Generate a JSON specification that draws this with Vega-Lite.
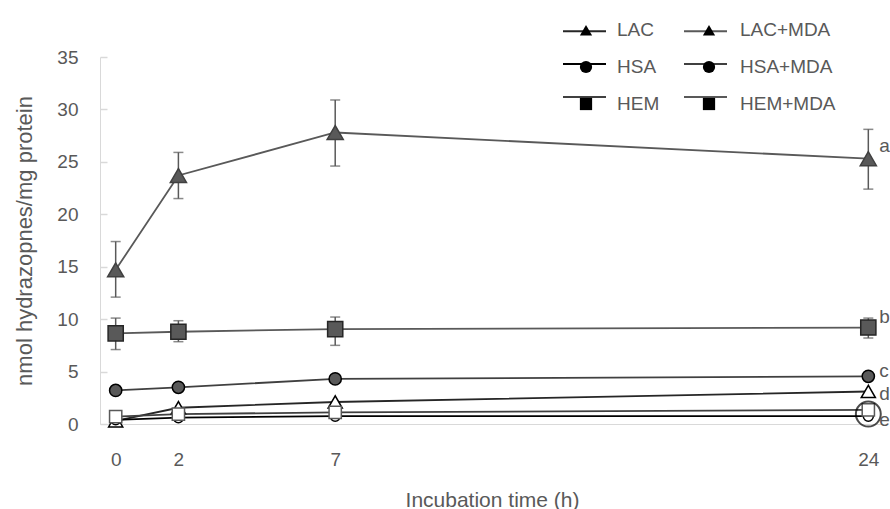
{
  "$schema": "https://vega.github.io/schema/vega-lite/v6.json",
  "width": 784,
  "height": 367,
  "autosize": {"type": "none"},
  "padding": {"left": 100, "top": 57, "right": 6, "bottom": 85},
  "background": "white",
  "config": {
    "view": {"stroke": null},
    "font": "Liberation Sans",
    "axis": {"labelColor": "#595959", "titleColor": "#595959", "titleFontWeight": "normal", "domainColor": "#d9d9d9", "tickColor": "#d9d9d9", "grid": false}
  },
  "datasets": {
    "main": [
      {"series": "LAC", "t": 0, "v": 0.3},
      {"series": "LAC", "t": 2, "v": 1.55},
      {"series": "LAC", "t": 7, "v": 2.1},
      {"series": "LAC", "t": 24, "v": 3.1},
      {"series": "HSA", "t": 0, "v": 0.4},
      {"series": "HSA", "t": 2, "v": 0.6},
      {"series": "HSA", "t": 7, "v": 0.75},
      {"series": "HSA", "t": 24, "v": 0.75},
      {"series": "HEM", "t": 0, "v": 0.7},
      {"series": "HEM", "t": 2, "v": 0.95},
      {"series": "HEM", "t": 7, "v": 1.1},
      {"series": "HEM", "t": 24, "v": 1.35},
      {"series": "LAC+MDA", "t": 0, "v": 14.7, "lo": 12.1, "hi": 17.4},
      {"series": "LAC+MDA", "t": 2, "v": 23.7, "lo": 21.5, "hi": 25.9},
      {"series": "LAC+MDA", "t": 7, "v": 27.8, "lo": 24.6, "hi": 30.9},
      {"series": "LAC+MDA", "t": 24, "v": 25.3, "lo": 22.4, "hi": 28.1},
      {"series": "HSA+MDA", "t": 0, "v": 3.2},
      {"series": "HSA+MDA", "t": 2, "v": 3.5},
      {"series": "HSA+MDA", "t": 7, "v": 4.3},
      {"series": "HSA+MDA", "t": 24, "v": 4.55},
      {"series": "HEM+MDA", "t": 0, "v": 8.65, "lo": 7.1, "hi": 10.1},
      {"series": "HEM+MDA", "t": 2, "v": 8.8, "lo": 7.85, "hi": 9.85},
      {"series": "HEM+MDA", "t": 7, "v": 9.05, "lo": 7.5, "hi": 10.2},
      {"series": "HEM+MDA", "t": 24, "v": 9.2, "lo": 8.2, "hi": 10.1}
    ],
    "letters": [
      {"t": 24, "v": 26.5, "label": "a"},
      {"t": 24, "v": 10.2, "label": "b"},
      {"t": 24, "v": 5.1, "label": "c"},
      {"t": 24, "v": 2.9, "label": "d"},
      {"t": 24, "v": 0.4, "label": "e"}
    ],
    "ring": [{"t": 24, "v": 0.95}]
  },
  "encoding": {
    "x": {
      "field": "t", "type": "quantitative",
      "scale": {"domain": [-0.5, 24.5], "nice": false, "zero": false},
      "axis": {"values": [0, 2, 7, 24], "ticks": false, "labelFontSize": 19, "labelPadding": 26, "title": "Incubation time (h)", "titleFontSize": 21, "titlePadding": 20}
    }
  },
  "layer": [
    {
      "data": {"name": "main"},
      "transform": [{"filter": "isValid(datum.lo)"}],
      "mark": {"type": "rule", "color": "#595959", "strokeWidth": 1.5},
      "encoding": {
        "y": {
          "field": "lo", "type": "quantitative", "scale": {"domain": [0, 35], "nice": false},
          "axis": {"orient": "left", "values": [0, 5, 10, 15, 20, 25, 30, 35], "ticks": false, "labelFontSize": 19, "labelPadding": 22, "title": "nmol hydrazopnes/mg protein", "titleFontSize": 22, "titlePadding": 20}
        },
        "y2": {"field": "hi"}
      }
    },
    {
      "data": {"name": "main"},
      "transform": [{"filter": "isValid(datum.lo)"}],
      "mark": {"type": "tick", "orient": "horizontal", "color": "#595959", "size": 10, "thickness": 1.5},
      "encoding": {"y": {"field": "lo", "type": "quantitative", "axis": null}}
    },
    {
      "data": {"name": "main"},
      "transform": [{"filter": "isValid(datum.hi)"}],
      "mark": {"type": "tick", "orient": "horizontal", "color": "#595959", "size": 10, "thickness": 1.5},
      "encoding": {"y": {"field": "hi", "type": "quantitative", "axis": null}}
    },
    {
      "data": {"name": "main"},
      "mark": {"type": "line", "strokeWidth": 1.8},
      "encoding": {
        "y": {"field": "v", "type": "quantitative", "axis": null},
        "color": {
          "field": "series", "type": "nominal",
          "scale": {"domain": ["HEM+MDA", "HSA+MDA", "LAC+MDA", "HEM", "HSA", "LAC"], "range": ["#595959", "#404040", "#595959", "#404040", "#000000", "#262626"]},
          "legend": {
            "title": null, "orient": "none", "legendX": 462, "legendY": -48.5,
            "values": ["LAC", "LAC+MDA", "HSA", "HSA+MDA", "HEM", "HEM+MDA"],
            "direction": "horizontal", "columns": 2, "columnPadding": 25, "rowPadding": -7,
            "symbolType": "stroke", "symbolSize": 1849, "symbolStrokeWidth": 1.8, "symbolOffset": 0, "labelOffset": 5.5,
            "labelFontSize": 19, "labelOpacity": 0
          }
        },
        "detail": {"field": "series"}
      }
    },
    {
      "data": {"name": "main"},
      "mark": {"type": "point", "filled": true, "strokeWidth": 1.5, "opacity": 1},
      "encoding": {
        "y": {"field": "v", "type": "quantitative", "axis": null},
        "shape": {
          "field": "series", "type": "nominal",
          "scale": {"domain": ["LAC", "LAC+MDA", "HSA", "HSA+MDA", "HEM", "HEM+MDA"], "range": ["triangle-up", "triangle-up", "circle", "circle", "square", "square"]},
          "legend": {
            "title": null, "orient": "none", "legendX": 462, "legendY": -36.5,
            "direction": "horizontal", "columns": 2, "columnPadding": 25, "rowPadding": 17,
            "symbolSize": 150, "symbolOffset": 14.5, "labelOffset": 21.5,
            "labelFontSize": 19, "labelColor": "#595959", "symbolStrokeWidth": 1.5,
            "encode": {"symbols": {
              "fill": {"condition": {"test": "indexof(datum.value, 'MDA') >= 0", "value": "#595959"}, "value": "#ffffff"},
              "stroke": {"condition": [{"test": "datum.value == 'HEM'", "value": "#595959"}, {"test": "indexof(datum.value, 'MDA') >= 0", "value": "#404040"}], "value": "#000000"},
              "opacity": {"value": 1}
            }}
          }
        },
        "size": {"field": "series", "type": "nominal", "scale": {"type": "ordinal", "domain": ["LAC", "HSA", "HEM", "LAC+MDA", "HSA+MDA", "HEM+MDA"], "range": [200, 100, 150, 260, 150, 230]}, "legend": null},
        "fill": {"field": "series", "type": "nominal", "scale": {"domain": ["LAC", "HSA", "HEM", "LAC+MDA", "HSA+MDA", "HEM+MDA"], "range": ["#ffffff", "#ffffff", "#ffffff", "#595959", "#595959", "#595959"]}, "legend": null},
        "stroke": {"field": "series", "type": "nominal", "scale": {"domain": ["LAC", "HSA", "HEM", "LAC+MDA", "HSA+MDA", "HEM+MDA"], "range": ["#000000", "#000000", "#595959", "#404040", "#000000", "#262626"]}, "legend": null}
      }
    },
    {
      "data": {"name": "ring"},
      "mark": {"type": "point", "filled": false, "shape": "circle", "size": 620, "stroke": "#000000", "strokeWidth": 2},
      "encoding": {
        "y": {
          "field": "v", "type": "quantitative",
          "axis": {"orient": "right", "offset": -784, "values": [0, 5, 10, 15, 20, 25, 30, 35], "domain": false, "labels": false, "title": null, "ticks": true, "tickSize": 7, "tickColor": "#d9d9d9", "tickWidth": 1.5}
        }
      }
    },
    {
      "data": {"name": "letters"},
      "mark": {"type": "text", "align": "left", "baseline": "middle", "dx": 11, "fontSize": 19, "color": "#595959"},
      "encoding": {
        "y": {"field": "v", "type": "quantitative", "axis": null},
        "text": {"field": "label"}
      }
    }
  ],
  "resolve": {"axis": {"y": "independent"}}
}
